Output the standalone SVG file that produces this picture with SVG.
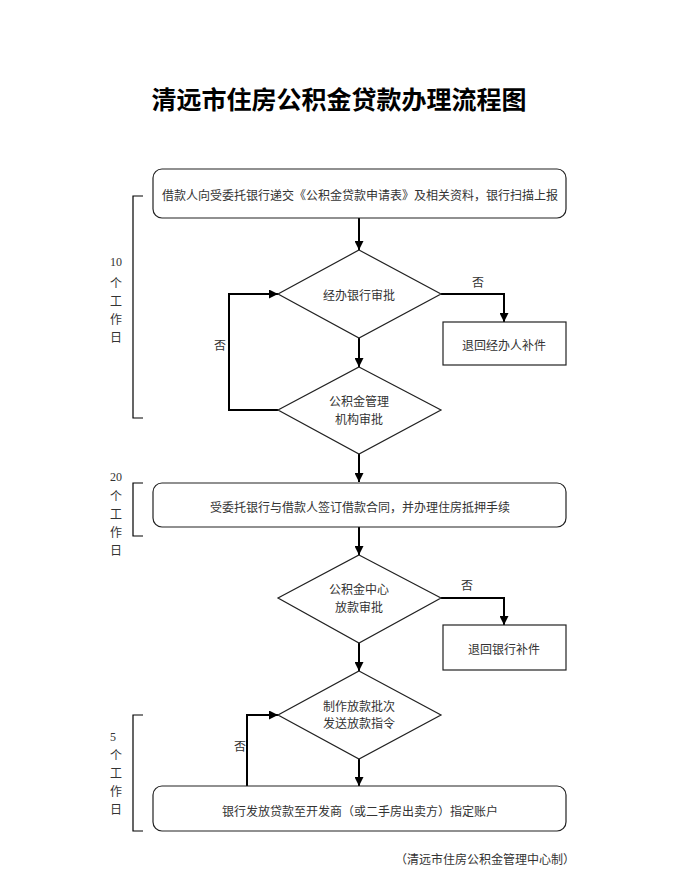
<svg xmlns="http://www.w3.org/2000/svg" width="678" height="881" viewBox="0 0 678 881">
<defs>
<marker id="ah" viewBox="0 0 10 10" refX="10" refY="5" markerWidth="9" markerHeight="9" markerUnits="userSpaceOnUse" orient="auto">
<path d="M0,0 L10,5 L0,10 z" fill="#000"/>
</marker>
<style>
.t{font-family:"Noto Sans CJK SC","Liberation Serif",serif;font-size:12px;fill:#333;text-anchor:middle;dominant-baseline:central}
.s{font-family:"Liberation Serif","Noto Sans CJK SC",serif;font-size:12px;fill:#333;text-anchor:middle;dominant-baseline:central}
.box{fill:#fff;stroke:#222;stroke-width:1.2}
.con{fill:none;stroke:#000;stroke-width:2}
.br{fill:none;stroke:#000;stroke-width:1.2}
.title{font-family:"Noto Sans CJK SC","Liberation Serif",serif;font-size:25px;font-weight:bold;fill:#000;text-anchor:middle;dominant-baseline:central}
</style>
</defs>
<rect width="678" height="881" fill="#fff"/>
<text class="title" x="339" y="98">清远市住房公积金贷款办理流程图</text>

<g id="brackets">
<path class="br" d="M143,196 H133 V418 H143"/>
<path class="br" d="M143,483 H133 V536 H143"/>
<path class="br" d="M143,715 H133 V831 H143"/>
<text class="s" x="116" y="262">10</text>
<text class="t" x="116" y="282">个</text>
<text class="t" x="116" y="300">工</text>
<text class="t" x="116" y="318">作</text>
<text class="t" x="116" y="336">日</text>
<text class="s" x="116" y="477">20</text>
<text class="t" x="116" y="495">个</text>
<text class="t" x="116" y="513">工</text>
<text class="t" x="116" y="531">作</text>
<text class="t" x="116" y="549">日</text>
<text class="s" x="113" y="737">5</text>
<text class="t" x="116" y="754">个</text>
<text class="t" x="116" y="772">工</text>
<text class="t" x="116" y="790">作</text>
<text class="t" x="116" y="808">日</text>
</g>

<g id="connectors">
<path class="con" d="M359,218 V250" marker-end="url(#ah)"/>
<path class="con" d="M441,294 H504 V322" marker-end="url(#ah)"/>
<path class="con" d="M359,338 V367" marker-end="url(#ah)"/>
<path class="con" d="M278,410 H229 V294 H278" marker-end="url(#ah)"/>
<path class="con" d="M359,454 V482" marker-end="url(#ah)"/>
<path class="con" d="M359,527 V555" marker-end="url(#ah)"/>
<path class="con" d="M441,598 H504 V625" marker-end="url(#ah)"/>
<path class="con" d="M359,643 V671" marker-end="url(#ah)"/>
<path class="con" d="M359,759 V786" marker-end="url(#ah)"/>
<path class="con" d="M247,786 V715 H278" marker-end="url(#ah)"/>
<text class="t" x="478" y="281">否</text>
<text class="t" x="220" y="344">否</text>
<text class="t" x="467" y="584">否</text>
<text class="t" x="240" y="745">否</text>
</g>

<g id="n1">
<rect class="box" x="153" y="169" width="413" height="49" rx="9"/>
<text class="t" x="360" y="194">借款人向受委托银行递交《公积金贷款申请表》及相关资料，银行扫描上报</text>
</g>
<g id="n2">
<polygon class="box" points="359,250 441,294 359,338 278,294"/>
<text class="t" x="359" y="294">经办银行审批</text>
</g>
<g id="n3">
<rect class="box" x="443" y="322" width="123" height="43"/>
<text class="t" x="504" y="344">退回经办人补件</text>
</g>
<g id="n4">
<polygon class="box" points="359,367 441,410 359,454 278,410"/>
<text class="t" x="359" y="400">公积金管理</text>
<text class="t" x="359" y="418">机构审批</text>
</g>
<g id="n5">
<rect class="box" x="153" y="483" width="413" height="44" rx="9"/>
<text class="t" x="360" y="506">受委托银行与借款人签订借款合同，并办理住房抵押手续</text>
</g>
<g id="n6">
<polygon class="box" points="359,555 441,598 359,643 278,598"/>
<text class="t" x="359" y="588">公积金中心</text>
<text class="t" x="359" y="606">放款审批</text>
</g>
<g id="n7">
<rect class="box" x="443" y="625" width="123" height="45"/>
<text class="t" x="504" y="648">退回银行补件</text>
</g>
<g id="n8">
<polygon class="box" points="359,671 441,715 359,759 278,715"/>
<text class="t" x="359" y="705">制作放款批次</text>
<text class="t" x="359" y="722">发送放款指令</text>
</g>
<g id="n9">
<rect class="box" x="153" y="786" width="413" height="45" rx="9"/>
<text class="t" x="360" y="810">银行发放贷款至开发商（或二手房出卖方）指定账户</text>
</g>
<text class="t" x="575" y="858" style="text-anchor:end">（清远市住房公积金管理中心制）</text>
</svg>
